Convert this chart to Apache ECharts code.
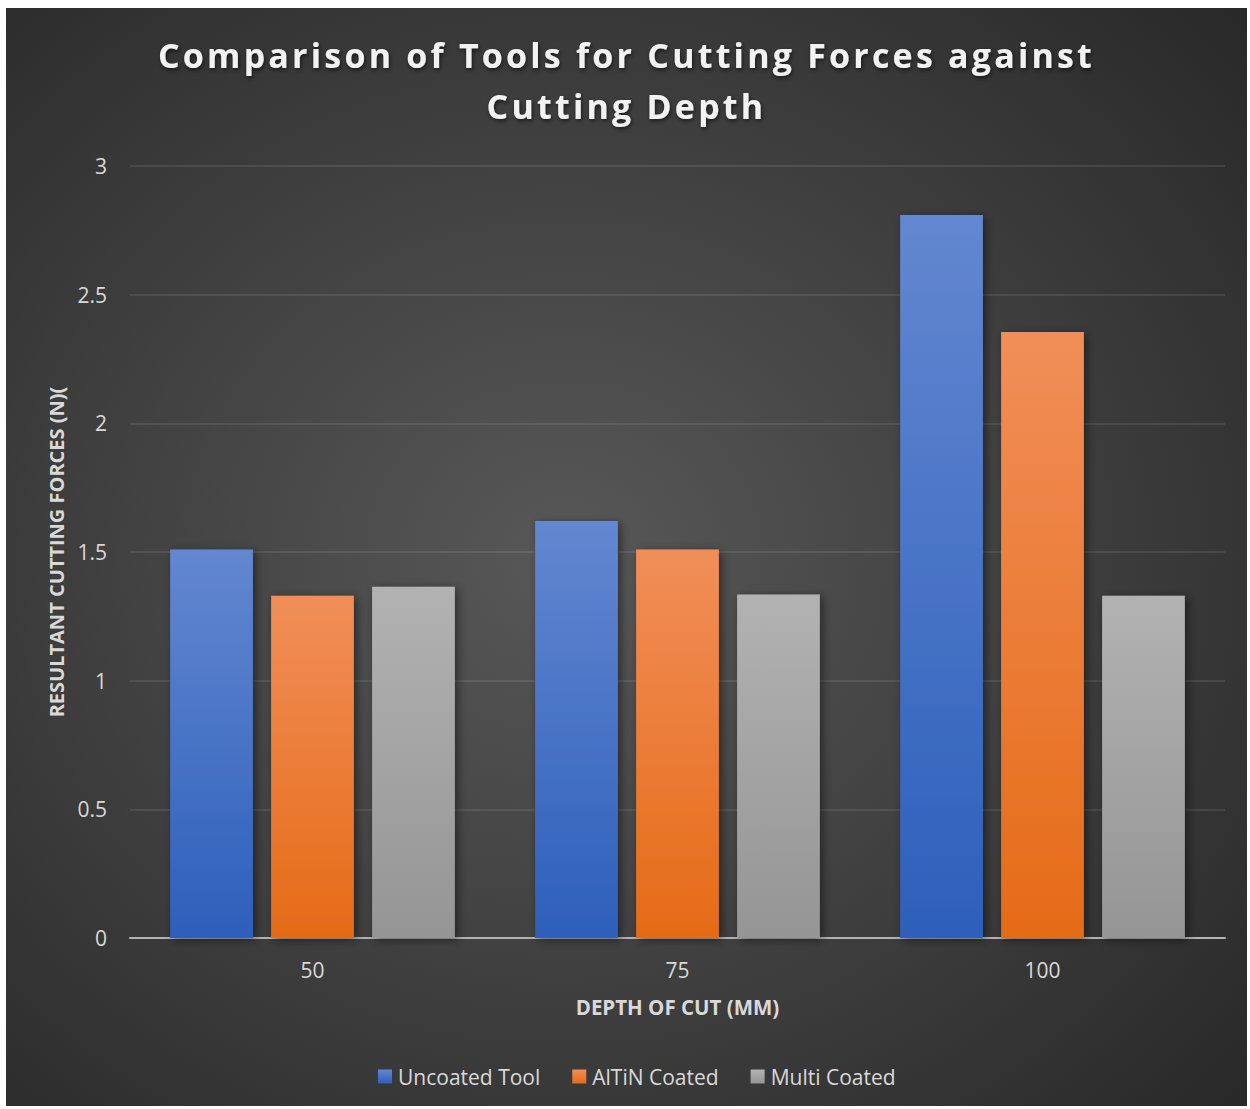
<!DOCTYPE html>
<html>
<head>
<meta charset="utf-8">
<script src="https://cdn.jsdelivr.net/npm/echarts@6/dist/echarts.min.js"></script>
<style>
  html, body { margin: 0; padding: 0; background: #ffffff; }
  #chart { position: absolute; left: 6px; top: 8px; width: 1241px; height: 1098px; }
</style>
</head>
<body>
<div id="chart"></div>
<script>
// Depth of cut (mm) on the x axis
const depths = ['50', '75', '100'];

// Resultant cutting force (N) for each tool type
const uncoatedTool = [1.51, 1.62, 2.81];
const altinCoated = [1.33, 1.51, 2.355];
const multiCoated = [1.365, 1.335, 1.33];

const seriesNames = ['Uncoated Tool', 'AlTiN Coated', 'Multi Coated'];
const titleLines = ['Comparison of Tools for Cutting Forces against', 'Cutting Depth'];

const FONT = '"Open Sans", "DejaVu Sans", sans-serif';
const LABEL = '#d9d9d9';

function vGrad(top, bottom) {
  return new echarts.graphic.LinearGradient(0, 0, 0, 1, [
    { offset: 0, color: top },
    { offset: 1, color: bottom }
  ]);
}

function barSeries(name, data, top, bottom) {
  return {
    name: name,
    type: 'bar',
    data: data,
    barGap: '22%',
    barCategoryGap: '22%',
    itemStyle: {
      color: vGrad(top, bottom),
      shadowColor: 'rgba(0,0,0,0.45)',
      shadowBlur: 10,
      shadowOffsetX: 3,
      shadowOffsetY: 2
    },
    emphasis: { disabled: true }
  };
}

const chart = echarts.init(document.getElementById('chart'), null, { renderer: 'svg' });
chart.setOption({
  animation: false,
  backgroundColor: new echarts.graphic.RadialGradient(0.45, 0.5, 0.78, [
    { offset: 0, color: '#585858' },
    { offset: 1, color: '#262626' }
  ]),
  title: {
    text: titleLines.join('\n'),
    left: 'center',
    top: 16,
    padding: [5, 0, 5, 8],
    textStyle: {
      fontFamily: FONT,
      fontWeight: 'bold',
      fontSize: 34,
      lineHeight: 51,
      color: '#f2f2f2',
      textShadowColor: 'rgba(0,0,0,0.6)',
      textShadowBlur: 4,
      textShadowOffsetX: 1,
      textShadowOffsetY: 2
    }
  },
  legend: {
    data: seriesNames,
    left: 367,
    top: 1053,
    icon: 'rect',
    itemWidth: 14,
    itemHeight: 14,
    itemGap: 32,
    textStyle: { fontFamily: FONT, fontSize: 21, color: LABEL, padding: [0, 0, 0, 1] }
  },
  grid: { left: 124, right: 22, top: 158, bottom: 168 },
  xAxis: {
    type: 'category',
    data: depths,
    name: 'DEPTH OF CUT (MM)',
    nameLocation: 'middle',
    nameGap: 58,
    nameTextStyle: { fontFamily: FONT, fontWeight: 'bold', fontSize: 20.5, color: LABEL },
    axisLine: { lineStyle: { color: '#b3b3b3', width: 2 } },
    axisTick: { show: false },
    axisLabel: { fontFamily: FONT, fontSize: 21, color: LABEL, margin: 21 }
  },
  yAxis: {
    type: 'value',
    min: 0,
    max: 3,
    interval: 0.5,
    name: 'RESULTANT CUTTING FORCES (N)(',
    nameLocation: 'middle',
    nameGap: 64,
    nameTextStyle: { fontFamily: FONT, fontWeight: 'bold', fontSize: 20, color: LABEL },
    axisLine: { show: false },
    axisTick: { show: false },
    axisLabel: { fontFamily: FONT, fontSize: 21, color: LABEL, margin: 23 },
    splitLine: { lineStyle: { color: 'rgba(255,255,255,0.12)', width: 1.5 } }
  },
  series: [
    barSeries(seriesNames[0], uncoatedTool, '#6387d0', '#2d5fbb'),
    barSeries(seriesNames[1], altinCoated, '#f18e58', '#e56b17'),
    barSeries(seriesNames[2], multiCoated, '#b2b2b2', '#959595')
  ]
});

// Widen the tracking of the heading lines
function spaceTitle() {
  document.querySelectorAll('#chart svg text').forEach(function (t) {
    if (titleLines.indexOf(t.textContent) >= 0) {
      t.style.letterSpacing = '3.2px';
    }
  });
}
spaceTitle();
chart.on('finished', spaceTitle);
</script>
</body>
</html>
